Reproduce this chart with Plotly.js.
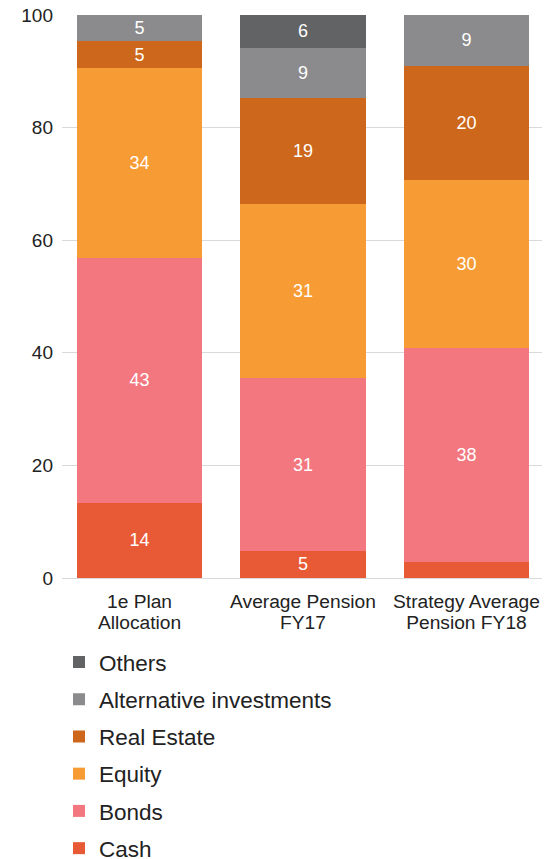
<!DOCTYPE html>
<html>
<head>
<meta charset="utf-8">
<script src="https://cdn.plot.ly/plotly-3.0.1.min.js"></script>
<style>html,body{margin:0;padding:0;background:#fff;}#chart{width:555px;height:859px;}</style>
</head>
<body>
<div id="chart"></div>
<script>
const categories = ["1e Plan<br>Allocation", "Average Pension<br>FY17", "Strategy Average<br>Pension FY18"];
const seriesNames = ["Cash", "Bonds", "Equity", "Real Estate", "Alternative investments", "Others"];
const cash = [13.4, 4.8, 2.8];
const bonds = [43.5, 30.7, 38.1];
const equity = [33.7, 31.0, 29.8];
const realEstate = [4.7, 18.8, 20.3];
const alternatives = [4.7, 8.9, 9.0];
const others = [0, 5.8, 0];
const cashLabels = ["14", "5", ""];
const bondsLabels = ["43", "31", "38"];
const equityLabels = ["34", "31", "30"];
const realEstateLabels = ["5", "19", "20"];
const alternativesLabels = ["5", "9", "9"];
const othersLabels = ["", "6", ""];
const colors = ["#e85a35", "#f2777f", "#f79b34", "#cc671b", "#8b8b8d", "#626365"];

const values = [cash, bonds, equity, realEstate, alternatives, others];
const labels = [cashLabels, bondsLabels, equityLabels, realEstateLabels, alternativesLabels, othersLabels];
const FONT = "Liberation Sans, Arial, sans-serif";

// larger glyphs with tighter line spacing for the category labels
const tickText = categories.map(c => c.split("<br>").map(s => '<span style="font-size:19.2px">' + s + '</span>').join("<br>"));

const data = seriesNames.map((name, i) => ({
  type: "bar",
  name: name,
  x: categories,
  y: values[i],
  text: labels[i],
  texttemplate: "%{text}",
  textposition: "inside",
  insidetextanchor: "middle",
  textangle: 0,
  constraintext: "none",
  insidetextfont: {family: FONT, size: 18, color: "#ffffff"},
  marker: {color: colors[i]},
  legendgroup: "g" + i,
  legendrank: 100 * (seriesNames.length - i),
  hoverinfo: "skip"
}));

const layout = {
  width: 555,
  height: 859,
  margin: {l: 62, r: 13, t: 15, b: 281, autoexpand: false},
  paper_bgcolor: "#ffffff",
  plot_bgcolor: "#ffffff",
  barmode: "stack",
  bargap: 0.235,
  font: {family: FONT, size: 18, color: "#222222"},
  xaxis: {
    type: "category",
    range: [-0.474, 2.462],
    tickmode: "array",
    tickvals: categories,
    ticktext: tickText,
    showgrid: false,
    zeroline: false,
    showline: false,
    ticks: "",
    ticklabelstandoff: 12,
    tickfont: {family: FONT, size: 16.7, color: "#222222"},
    fixedrange: true
  },
  yaxis: {
    range: [0, 100],
    tickvals: [0, 20, 40, 60, 80, 100],
    showgrid: true,
    gridcolor: "#d9d9d9",
    gridwidth: 1,
    zeroline: true,
    zerolinecolor: "#d9d9d9",
    zerolinewidth: 1,
    showline: false,
    ticks: "",
    ticklabelstandoff: 8,
    tickfont: {family: FONT, size: 19, color: "#222222"},
    fixedrange: true
  },
  showlegend: true,
  legend: {
    orientation: "v",
    traceorder: "grouped",
    x: -0.00625,
    xanchor: "left",
    y: -0.1115,
    yanchor: "top",
    tracegroupgap: 5,
    font: {family: FONT, size: 22.5, color: "#222222"},
    bgcolor: "rgba(0,0,0,0)"
  }
};

Plotly.newPlot("chart", data, layout, {displayModeBar: false, staticPlot: true});
</script>
</body>
</html>
